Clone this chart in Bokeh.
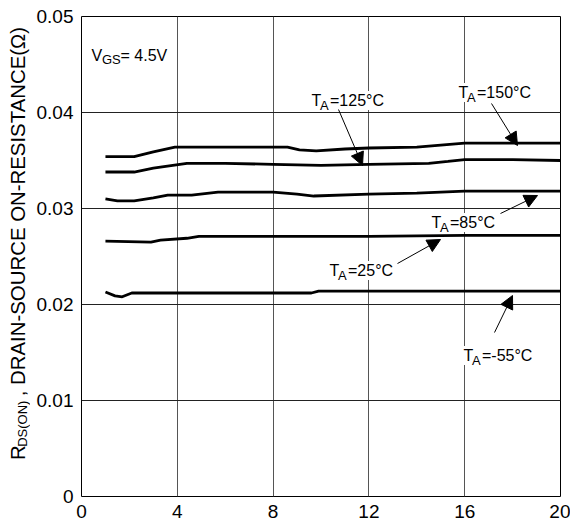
from math import pi
from bokeh.plotting import figure
from bokeh.layouts import row
from bokeh.models import FixedTicker, Label, Arrow, NormalHead
from bokeh.core.properties import value
from bokeh.embed import file_html
from bokeh.resources import INLINE

# ---- data ----
x_ticks = [0, 4, 8, 12, 16, 20]
x_tick_labels = ["0", "4", "8", "12", "16", "20"]
y_ticks = [0.0, 0.01, 0.02, 0.03, 0.04, 0.05]
y_tick_labels = ["0", "0.01", "0.02", "0.03", "0.04", "0.05"]

x_150 = [1.0, 2.2, 3.0, 3.9, 6.0, 8.6, 9.1, 9.8, 11.0, 12.0, 14.0, 15.0, 16.0, 17.5, 20.0]
y_150 = [0.0354, 0.0354, 0.0359, 0.0364, 0.0364, 0.0364, 0.0361, 0.0360, 0.0362, 0.0363,
         0.0364, 0.0366, 0.0368, 0.0368, 0.0368]

x_125 = [1.0, 2.2, 3.0, 4.4, 6.0, 8.0, 10.0, 12.0, 14.5, 15.3, 16.0, 18.0, 20.0]
y_125 = [0.0338, 0.0338, 0.0342, 0.0347, 0.0347, 0.0346, 0.0345, 0.0346, 0.0347, 0.0349,
         0.0351, 0.0351, 0.0350]

x_85 = [1.0, 1.5, 2.2, 3.0, 3.6, 4.6, 5.7, 8.0, 9.0, 9.7, 12.0, 14.0, 16.0, 18.0, 20.0]
y_85 = [0.0310, 0.0308, 0.0308, 0.0311, 0.0314, 0.0314, 0.0317, 0.0317, 0.0315, 0.0313,
        0.0315, 0.0316, 0.0318, 0.0318, 0.0318]

x_25 = [1.0, 2.9, 3.3, 4.4, 4.9, 8.0, 12.0, 16.0, 20.0]
y_25 = [0.0266, 0.0265, 0.0267, 0.0269, 0.0271, 0.0271, 0.0271, 0.0272, 0.0272]

x_m55 = [1.0, 1.4, 1.7, 2.1, 4.0, 8.0, 9.6, 9.9, 12.0, 16.0, 20.0]
y_m55 = [0.0213, 0.0209, 0.0208, 0.0212, 0.0212, 0.0212, 0.0212, 0.0214, 0.0214, 0.0214, 0.0214]

series = [(x_150, y_150), (x_125, y_125), (x_85, y_85), (x_25, y_25), (x_m55, y_m55)]

y_title_main = "R"
y_title_sub = "DS(ON)"
y_title_rest = ", DRAIN-SOURCE ON-RESISTANCE(Ω)"

FONT = "Liberation Sans"

# ---- layout sizes ----
H = 527
TW = 30                      # narrow strip holding the rotated y title
W = 540                      # main figure
ML, MR, MT, MB = 51, 10, 16, 31
FW, FH = W - ML - MR, H - MT - MB

# ---- y-title strip ----
t = figure(width=TW, height=H, x_range=(0, TW), y_range=(0, H),
           output_backend="svg", toolbar_location=None,
           x_axis_type=None, y_axis_type=None,
           min_border_left=0, min_border_right=0, min_border_top=0, min_border_bottom=0)
t.outline_line_color = None
t.grid.visible = False
t.background_fill_color = "white"
t.border_fill_color = "white"

t.text(x=[17], y=[H - 487], text=[y_title_main], angle=pi / 2,
       text_font=value(FONT), text_font_size="20.4px", text_color="black",
       text_align="left", text_baseline="alphabetic")
t.text(x=[22], y=[H - 472.5], text=[y_title_sub], angle=pi / 2,
       text_font=value(FONT), text_font_size="13px", text_color="black",
       text_align="left", text_baseline="alphabetic")
t.text(x=[17], y=[H - 417], text=[y_title_rest], angle=pi / 2,
       text_font=value(FONT), text_font_size="20.4px", text_color="black",
       text_align="left", text_baseline="alphabetic")

# ---- main figure ----
p = figure(width=W, height=H, x_range=(0, 20), y_range=(0, 0.05),
           output_backend="svg", toolbar_location=None,
           min_border_left=ML, min_border_right=MR, min_border_top=MT, min_border_bottom=MB)
p.background_fill_color = "white"
p.border_fill_color = "white"
p.outline_line_color = "black"
p.outline_line_width = 1

for ax in (p.xaxis[0], p.yaxis[0]):
    ax.axis_line_color = None
    ax.major_tick_in = 0
    ax.major_tick_out = 0
    ax.minor_tick_in = 0
    ax.minor_tick_out = 0
    ax.major_label_text_font = FONT
    ax.major_label_text_font_size = "19px"
    ax.major_label_text_color = "black"

p.xaxis.ticker = FixedTicker(ticks=x_ticks)
p.yaxis.ticker = FixedTicker(ticks=y_ticks)
p.xaxis.major_label_overrides = {tk: s for tk, s in zip(x_ticks, x_tick_labels)}
p.yaxis.major_label_overrides = {tk: s for tk, s in zip(y_ticks, y_tick_labels)}
p.xaxis.major_label_standoff = 8
p.yaxis.major_label_standoff = 8

p.xgrid.ticker = FixedTicker(ticks=x_ticks)
p.ygrid.ticker = FixedTicker(ticks=y_ticks)
p.xgrid.grid_line_color = "#555555"
p.ygrid.grid_line_color = "#222222"
p.xgrid.grid_line_width = 1
p.ygrid.grid_line_width = 1

for xs, ys in series:
    p.line(xs, ys, line_color="black", line_width=2.8)


# helper: pixel offsets inside the frame -> data coords (annotation placement)
def frame_xy(ix, iy):
    return ix * 20.0 / FW, 0.05 - iy * 0.05 / FH


def add_text(ix, iy, text, size, bg=True):
    x, y = frame_xy(ix, iy)
    kw = dict(x=x, y=y, text=text, text_font=FONT, text_font_size=size,
              text_color="black", text_align="left", text_baseline="alphabetic")
    if bg:
        kw.update(background_fill_color="white", padding=1)
    p.add_layout(Label(**kw))


def temp_label(ix, iy, rest):
    add_text(ix, iy, "T", "16px")
    add_text(ix + 9.6, iy + 5, "A", "13px", bg=False)
    add_text(ix + 18.5, iy, rest, "16px")


# VGS annotation
add_text(10, 39, "V", "16px", bg=False)
add_text(20.5, 43, "GS", "13px", bg=False)
add_text(39, 39, "= 4.5V", "16px", bg=False)

# temperature labels (frame px = image px - (81, 16))
temp_label(229, 84, "=125°C")
temp_label(376, 76, "=150°C")
temp_label(349, 206, "=85°C")
temp_label(247, 254, "=25°C")
temp_label(381, 339, "=-55°C")

arrows = [
    ((257, 93), (281, 149)),
    ((410, 87), (436, 129)),
    ((419, 197), (456, 179)),
    ((316, 247), (359, 223)),
    ((413, 316), (431, 279)),
]
for (sx0, sy0), (sx1, sy1) in arrows:
    x0, y0 = frame_xy(sx0, sy0)
    x1, y1 = frame_xy(sx1, sy1)
    p.add_layout(Arrow(x_start=x0, y_start=y0, x_end=x1, y_end=y1,
                       line_color="black", line_width=1,
                       end=NormalHead(size=13, fill_color="black", line_color="black",
                                      line_width=1)))

layout = row(t, p, spacing=0)
open("out.html", "w").write(file_html(layout, INLINE))
